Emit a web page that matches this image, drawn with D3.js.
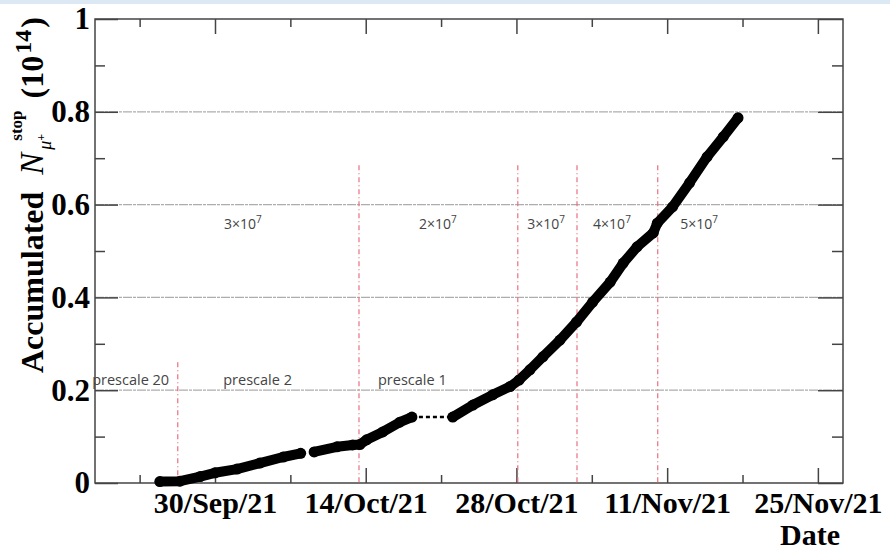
<!DOCTYPE html>
<html>
<head>
<meta charset="utf-8">
<script src="https://cdn.jsdelivr.net/npm/d3@7"></script>
<style>
  body { margin: 0; background: #fff; }
  svg { display: block; }
</style>
</head>
<body>
<div id="chart"></div>
<script>
// accumulated stopped muons, three data taking periods (10^14)
var period1 = [
  ["2021-09-24 21:00", 0.003], ["2021-09-26 18:00", 0.004], ["2021-09-28 15:00", 0.014],
  ["2021-09-30 00:00", 0.022], ["2021-10-02 01:00", 0.030], ["2021-10-04 04:00", 0.043],
  ["2021-10-06 08:00", 0.056], ["2021-10-07 23:00", 0.064]
];
var period2 = [
  ["2021-10-09 05:00", 0.067], ["2021-10-11 08:00", 0.078], ["2021-10-12 19:00", 0.082],
  ["2021-10-13 11:00", 0.083], ["2021-10-14 02:00", 0.093], ["2021-10-15 14:00", 0.110],
  ["2021-10-17 04:00", 0.131], ["2021-10-18 07:00", 0.142]
];
var period3 = [
  ["2021-10-22 02:00", 0.142], ["2021-10-23 23:00", 0.168], ["2021-10-25 19:00", 0.190],
  ["2021-10-27 10:00", 0.208], ["2021-10-28 06:00", 0.222], ["2021-10-29 06:00", 0.244],
  ["2021-10-30 11:00", 0.272], ["2021-11-01 01:00", 0.308], ["2021-11-02 14:00", 0.347],
  ["2021-11-04 02:00", 0.390], ["2021-11-05 17:00", 0.433], ["2021-11-06 22:00", 0.474],
  ["2021-11-08 05:00", 0.509], ["2021-11-09 17:00", 0.539], ["2021-11-10 02:00", 0.560],
  ["2021-11-11 12:00", 0.595], ["2021-11-13 02:00", 0.647], ["2021-11-14 17:00", 0.703],
  ["2021-11-16 05:00", 0.746], ["2021-11-17 14:00", 0.787]
];

// run condition changes
var changeDates = ["2021-09-26 13:00", "2021-10-13 09:00", "2021-10-28 03:00", "2021-11-02 15:00", "2021-11-10 03:00"];
var changeTops = [0.26, 0.685, 0.685, 0.685, 0.685];

var rateMantissa = ["3", "2", "3", "4", "5"];
var rateDates = ["2021-10-02 14:00", "2021-10-20 17:00", "2021-10-30 18:00", "2021-11-05 21:00", "2021-11-13 23:00"];
var rateLevel = 0.548;

var prescaleLabels = ["prescale 20", "prescale 2", "prescale 1"];
var prescaleDates = ["2021-09-22 04:00", "2021-10-03 23:00", "2021-10-18 08:00"];
var prescaleLevel = 0.212;

var xRange = ["2021-09-18 20:30", "2021-11-27 08:00"];
var xMajor = ["2021-09-30 00:00", "2021-10-14 00:00", "2021-10-28 00:00", "2021-11-11 00:00", "2021-11-25 00:00"];
var xMinor = ["2021-09-23 00:00", "2021-10-07 00:00", "2021-10-21 00:00", "2021-11-04 00:00", "2021-11-18 00:00"];
var yMajor = [0, 0.2, 0.4, 0.6, 0.8, 1];
var yMinor = [0.1, 0.3, 0.5, 0.7, 0.9];

var width = 890, height = 551;
var padL = 95, padR = 843, padT = 19, padB = 483;
var serif = '"Liberation Serif", "Times New Roman", serif';
var sans = '"Open Sans", "Noto Sans", sans-serif';

var parse = d3.utcParse("%Y-%m-%d %H:%M");

var x = d3.scaleUtc().domain(xRange.map(parse)).range([padL, padR]);
var y = d3.scaleLinear().domain([0, 1]).range([padB, padT]);

var svg = d3.select("#chart").append("svg")
  .attr("width", width)
  .attr("height", height);

svg.append("rect").attr("width", width).attr("height", height).attr("fill", "#fff");
svg.append("rect").attr("width", width).attr("height", 4).attr("fill", "#dde8f5");

// grid
svg.append("g").selectAll("line")
  .data(yMajor.filter(function(d){ return d > 0 && d < 1; }))
  .enter().append("line")
  .attr("x1", padL).attr("x2", padR)
  .attr("y1", function(d){ return y(d); }).attr("y2", function(d){ return y(d); })
  .attr("stroke", "#adadad")
  .attr("stroke-width", 1.3)
  .attr("stroke-dasharray", "9,1,3,1");

// axes, ROOT style ticks pointing inwards
function styleAxis(g) {
  g.select(".domain").remove();
  g.selectAll(".tick line").attr("stroke", "#444").attr("stroke-width", 1.5);
  g.attr("font-family", serif).attr("font-weight", "bold").attr("font-size", 30);
  g.selectAll(".tick text").attr("fill", "#000");
}

var fmt = d3.utcFormat("%d/%b/%y");

svg.append("g").attr("transform", "translate(0," + padB + ")")
  .call(d3.axisBottom(x).tickValues(xMajor.map(parse)).tickSize(-15).tickFormat(fmt))
  .call(styleAxis)
  .selectAll(".tick text").attr("y", 30).attr("dy", 0);
svg.append("g").attr("transform", "translate(0," + padB + ")")
  .call(d3.axisBottom(x).tickValues(xMinor.map(parse)).tickSize(-8).tickFormat(""))
  .call(styleAxis);
svg.append("g").attr("transform", "translate(0," + padT + ")")
  .call(d3.axisTop(x).tickValues(xMajor.map(parse)).tickSize(-15).tickFormat(""))
  .call(styleAxis);
svg.append("g").attr("transform", "translate(0," + padT + ")")
  .call(d3.axisTop(x).tickValues(xMinor.map(parse)).tickSize(-8).tickFormat(""))
  .call(styleAxis);

svg.append("g").attr("transform", "translate(" + padL + ",0)")
  .call(d3.axisLeft(y).tickValues(yMajor).tickSize(-23).tickFormat(d3.format("~g")))
  .call(styleAxis)
  .selectAll(".tick text").attr("x", -5).attr("font-size", 31);
svg.append("g").attr("transform", "translate(" + padL + ",0)")
  .call(d3.axisLeft(y).tickValues(yMinor).tickSize(-10).tickFormat(""))
  .call(styleAxis);
svg.append("g").attr("transform", "translate(" + padR + ",0)")
  .call(d3.axisRight(y).tickValues(yMajor).tickSize(-25).tickFormat(""))
  .call(styleAxis);
svg.append("g").attr("transform", "translate(" + padR + ",0)")
  .call(d3.axisRight(y).tickValues(yMinor).tickSize(-11).tickFormat(""))
  .call(styleAxis);

svg.append("rect")
  .attr("x", padL).attr("y", padT)
  .attr("width", padR - padL).attr("height", padB - padT)
  .attr("fill", "none").attr("stroke", "#444").attr("stroke-width", 1.5);

// condition change markers
svg.append("g").selectAll("line")
  .data(changeDates)
  .enter().append("line")
  .attr("x1", function(d){ return x(parse(d)); })
  .attr("x2", function(d){ return x(parse(d)); })
  .attr("y1", function(d, i){ return y(changeTops[i]); })
  .attr("y2", y(0))
  .attr("stroke", "#e8707e")
  .attr("stroke-width", 1.2)
  .attr("stroke-dasharray", "5,3,1,3");

// rate labels
var rates = svg.append("g").selectAll("text")
  .data(rateMantissa)
  .enter().append("text")
  .attr("x", function(d, i){ return x(parse(rateDates[i])); })
  .attr("y", y(rateLevel))
  .attr("text-anchor", "middle")
  .attr("font-family", sans)
  .attr("font-size", 14)
  .attr("fill", "#444");
rates.append("tspan").text(function(d){ return d + "×10"; });
rates.append("tspan").attr("dy", -6).attr("font-size", 10).text("7");

svg.append("g").selectAll("text")
  .data(prescaleLabels)
  .enter().append("text")
  .attr("x", function(d, i){ return x(parse(prescaleDates[i])); })
  .attr("y", y(prescaleLevel))
  .attr("text-anchor", "middle")
  .attr("font-family", sans)
  .attr("font-size", 14.5)
  .attr("fill", "#444")
  .text(function(d){ return d; });

// data
var line = d3.line()
  .x(function(d){ return x(parse(d[0])); })
  .y(function(d){ return y(d[1]); });

var ends = [period2[period2.length - 1], period3[0]];
svg.append("path")
  .attr("d", line(ends))
  .attr("fill", "none")
  .attr("stroke", "#000")
  .attr("stroke-width", 2.5)
  .attr("stroke-dasharray", "4,3");

[period1, period2, period3].forEach(function(p) {
  svg.append("path")
    .attr("d", line(p))
    .attr("fill", "none")
    .attr("stroke", "#000")
    .attr("stroke-width", 10)
    .attr("stroke-linejoin", "round")
    .attr("stroke-linecap", "round");
  svg.append("g").selectAll("circle")
    .data(p)
    .enter().append("circle")
    .attr("cx", function(d){ return x(parse(d[0])); })
    .attr("cy", function(d){ return y(d[1]); })
    .attr("r", 5.5)
    .attr("fill", "#000");
});

// axis titles
svg.append("text")
  .attr("x", 840).attr("y", 545)
  .attr("text-anchor", "end")
  .attr("font-family", serif).attr("font-weight", "bold").attr("font-size", 30)
  .text("Date");

var title = svg.append("g").attr("transform", "translate(43,373) rotate(-90)");
function piece(txt, px, py, size, opts) {
  var t = title.append("text")
    .attr("x", px).attr("y", py)
    .attr("font-family", serif)
    .attr("font-size", size)
    .attr("font-weight", opts.weight || "bold")
    .attr("font-style", opts.style || "normal")
    .text(txt);
  return t.node().getComputedTextLength();
}
var cx = 0;
cx += piece("Accumulated", cx, 0, 32, {}) + 17;
cx += piece("N", cx, 0, 33, {style: "italic", weight: "normal"});
var wStop = piece("stop", cx + 12, -21, 17, {});
var wMu = piece("μ", cx + 3, 8, 18, {style: "italic", weight: "normal"});
piece("+", cx + 3 + wMu, 2, 12, {});
cx += Math.max(wStop + 12, wMu + 10) + 12;
cx += piece("(10", cx, 0, 32, {}) + 2;
cx += piece("14", cx, -12, 24, {}) + 2;
piece(")", cx, 0, 32, {});
</script>
</body>
</html>
